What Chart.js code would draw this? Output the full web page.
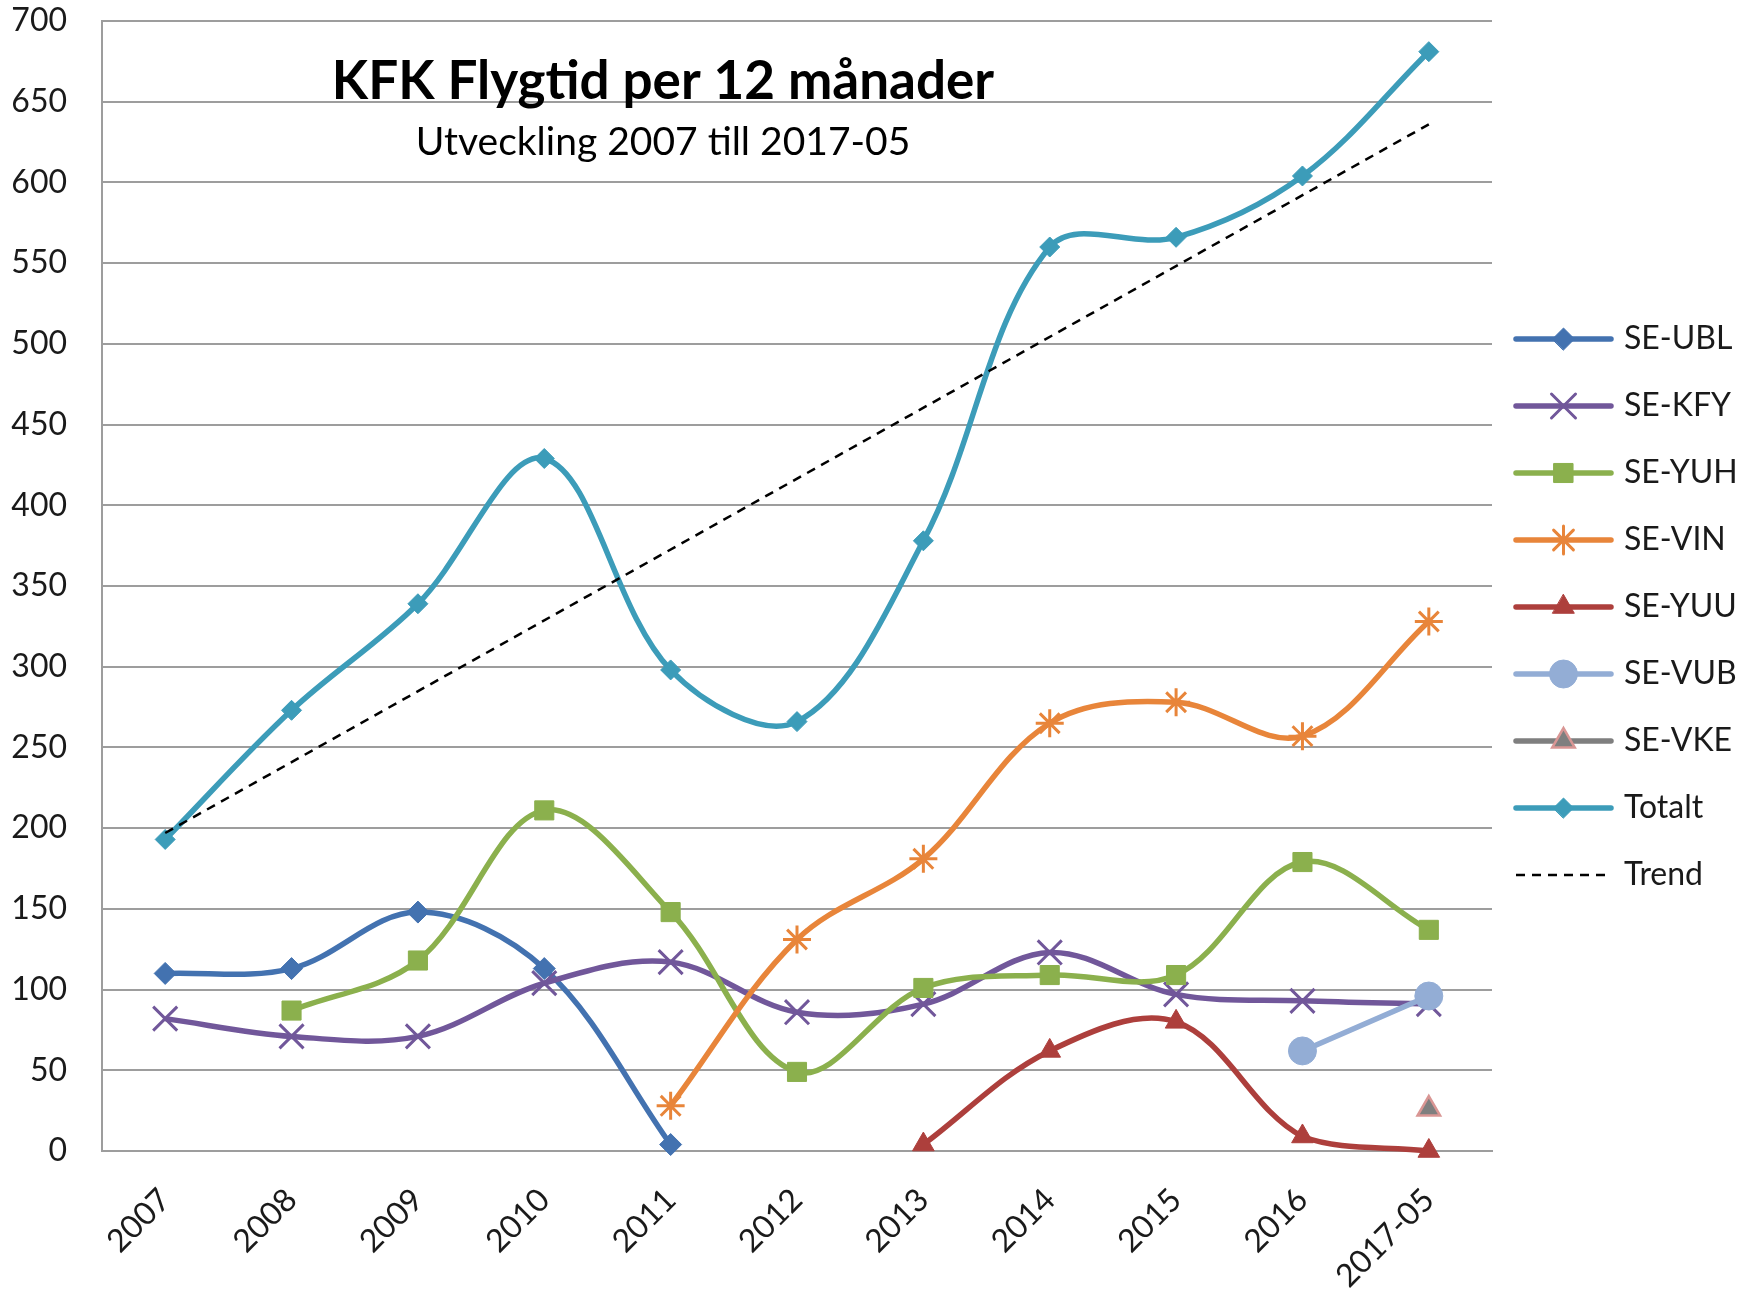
<!DOCTYPE html>
<html>
<head>
<meta charset="utf-8">
<title>KFK Flygtid per 12 månader</title>
<script src="https://cdn.jsdelivr.net/npm/chart.js@4.4.1/dist/chart.umd.min.js"></script>
<style>
  html, body { margin: 0; padding: 0; background: #fff; }
  #contenedor { width: 1754px; height: 1295px; }
</style>
</head>
<body>
<div id="contenedor"><canvas id="grafica"></canvas></div>
<script>
// Eje X
const etiquetas = ["2007", "2008", "2009", "2010", "2011", "2012", "2013", "2014", "2015", "2016", "2017-05"];

// Datos (timmar per 12 månader)
const datosUBL = [110, 113, 148, 113, 4, null, null, null, null, null, null];
const datosKFY = [82, 71, 71, 104, 117, 86, 91, 123, 97, 93, 91];
const datosYUH = [null, 87, 118, 211, 148, 49, 101, 109, 109, 179, 137];
const datosVIN = [null, null, null, null, 28, 131, 181, 265, 278, 257, 328];
const datosYUU = [null, null, null, null, null, null, 4, 62, 80, 9, 0];
const datosVUB = [null, null, null, null, null, null, null, null, null, 62, 96];
const datosVKE = [null, null, null, null, null, null, null, null, null, null, 26];
const datosTotalt = [193, 273, 339, 429, 298, 266, 378, 560, 566, 604, 681];
// Trendlinje: bara ändpunkterna
const datosTrend = [197, null, null, null, null, null, null, null, null, null, 636];

// Y-axel
const yMin = 0;
const yMax = 700;
const yPaso = 50;

const titulo = "KFK Flygtid per 12 månader";
const subtitulo = "Utveckling 2007 till 2017-05";
const fuente = "Lato, 'Open Sans', sans-serif";

// serie: namn, data, färg, markör
const series = [
  { label: "SE-UBL", data: datosUBL, color: "#4372b0", point: "rectRot", radius: 11 },
  { label: "SE-KFY", data: datosKFY, color: "#71579a", point: "crossRot", radius: 17, stroke: true },
  { label: "SE-YUH", data: datosYUH, color: "#8bb04d", point: "rect", radius: 13.5 },
  { label: "SE-VIN", data: datosVIN, color: "#e8853a", point: "star", radius: 14, stroke: true },
  { label: "SE-YUU", data: datosYUU, color: "#ad3f3c", point: "triangle", radius: 12.5 },
  { label: "SE-VUB", data: datosVUB, color: "#93add5", point: "circle", radius: 14 },
  { label: "SE-VKE", data: datosVKE, color: "#7f7f7f", point: "triangle", radius: 13, fill: "#7f7f7f", border: "#d99694" },
  { label: "Totalt", data: datosTotalt, color: "#3c9cb9", point: "rectRot", radius: 10 },
];

const datasets = series.map((s, i) => ({
  label: s.label,
  data: s.data,
  borderColor: s.color,
  backgroundColor: s.color,
  borderWidth: 5.5,
  tension: 0.35,
  pointStyle: s.point,
  pointRadius: s.radius,
  pointHoverRadius: s.radius,
  pointBackgroundColor: s.fill || s.color,
  pointBorderColor: s.border || s.color,
  pointBorderWidth: s.stroke ? 3 : (s.border ? 2.5 : 1),
  spanGaps: false,
  clip: false,
  order: 10 - i,
}));

datasets.push({
  label: "Trend",
  data: datosTrend,
  borderColor: "#000",
  borderWidth: 2.5,
  borderDash: [9, 7],
  tension: 0,
  pointRadius: 0,
  spanGaps: true,
  clip: false,
  order: 0,
});

// Titel inne i diagramytan
const pluginTitulo = {
  id: "tituloInterno",
  afterDraw(chart) {
    const { ctx, chartArea } = chart;
    const cx = chartArea.left + 561;
    ctx.save();
    ctx.fillStyle = "#000";
    ctx.textAlign = "center";
    ctx.textBaseline = "middle";
    ctx.font = "bold 53px " + fuente;
    ctx.fillText(titulo, cx, chartArea.top + 61);
    ctx.font = "39px " + fuente;
    ctx.fillText(subtitulo, cx, chartArea.top + 121);
    ctx.restore();
  },
};

// Förklaring till höger (linje + markör)
const pluginLeyenda = {
  id: "leyenda",
  afterDraw(chart) {
    const { ctx, chartArea } = chart;
    const x0 = chartArea.right + 24;
    const largo = 95;
    ctx.save();
    chart.data.datasets.forEach((ds, i) => {
      const y = 339 + i * 67;
      ctx.strokeStyle = ds.borderColor;
      ctx.lineWidth = ds.borderWidth;
      ctx.setLineDash(ds.borderDash || []);
      ctx.lineCap = ds.borderDash ? "butt" : "round";
      ctx.beginPath();
      ctx.moveTo(x0, y);
      ctx.lineTo(x0 + largo, y);
      ctx.stroke();
      ctx.setLineDash([]);
      if (ds.pointRadius) {
        ctx.fillStyle = ds.pointBackgroundColor;
        ctx.strokeStyle = ds.pointBorderColor;
        ctx.lineWidth = ds.pointBorderWidth;
        Chart.helpers.drawPoint(ctx, {
          pointStyle: ds.pointStyle,
          radius: ds.pointRadius,
          rotation: 0,
          borderWidth: ds.pointBorderWidth,
        }, x0 + largo / 2, y);
      }
      ctx.fillStyle = "#1a1a1a";
      ctx.font = "32px " + fuente;
      ctx.textAlign = "left";
      ctx.textBaseline = "middle";
      ctx.fillText(ds.label, x0 + largo + 13, y);
    });
    ctx.restore();
  },
};

const ctx = document.getElementById("grafica").getContext("2d");
new Chart(ctx, {
  type: "line",
  data: {
    labels: etiquetas,
    datasets: datasets,
  },
  options: {
    responsive: true,
    maintainAspectRatio: false,
    animation: false,
    devicePixelRatio: 1,
    layout: {
      padding: { left: 10, right: 262, top: 21, bottom: 0 },
    },
    plugins: {
      legend: { display: false },
      title: { display: false },
      tooltip: { enabled: false },
    },
    scales: {
      x: {
        offset: true,
        grid: { display: false, drawTicks: false },
        border: { display: true, color: "#9d9d9d", width: 2 },
        ticks: {
          autoSkip: false,
          minRotation: 45,
          maxRotation: 45,
          padding: 30,
          color: "#1a1a1a",
          font: { family: fuente, size: 32 },
        },
        afterFit(scale) {
          scale.height = 144;
          scale.paddingLeft = 0;
          scale.paddingRight = 0;
        },
      },
      y: {
        min: yMin,
        max: yMax,
        ticks: {
          stepSize: yPaso,
          padding: 35,
          color: "#1a1a1a",
          font: { family: fuente, size: 32 },
        },
        grid: { color: "#9d9d9d", lineWidth: 2, drawTicks: false },
        border: { display: true, color: "#9d9d9d", width: 2 },
        afterFit(scale) {
          scale.width = 92;
          scale.paddingTop = 0;
          scale.paddingBottom = 0;
        },
      },
    },
  },
  plugins: [pluginTitulo, pluginLeyenda],
});
</script>
</body>
</html>
